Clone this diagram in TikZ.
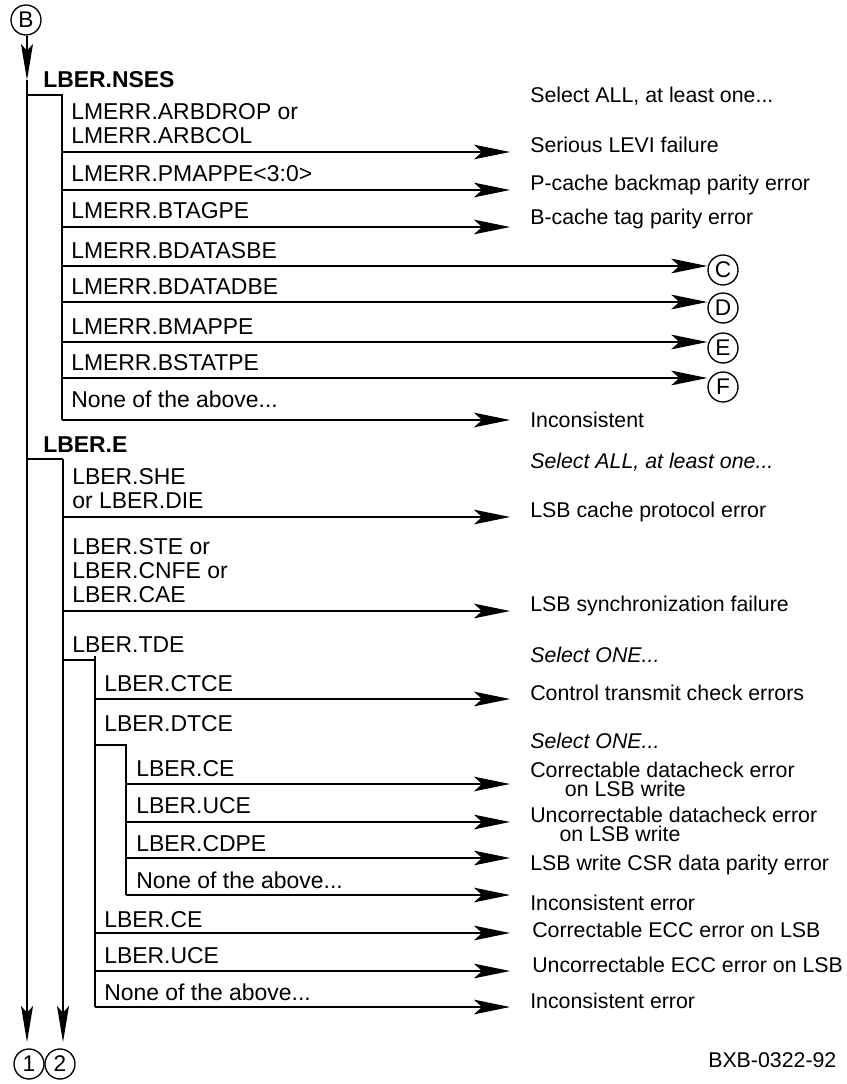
\documentclass[tikz,border=0pt]{standalone}
\usepackage{fontspec}
\setmainfont{Liberation Sans}
\usetikzlibrary{arrows.meta}
\begin{document}
\begin{tikzpicture}[x=0.75pt,y=-0.75pt,
  lt/.style={font=\fontsize{17.2}{18}\selectfont, anchor=base west, inner sep=0pt, align=left},
  hd/.style={font=\fontsize{17.2}{18}\selectfont\bfseries, anchor=base west, inner sep=0pt},
  rt/.style={font=\fontsize{16}{14.2}\selectfont, anchor=base west, inner sep=0pt, align=left},
  rit/.style={font=\fontsize{16}{14.2}\selectfont\itshape, anchor=base west, inner sep=0pt},
  circ/.style={circle, draw, line width=1pt, minimum size=22.5pt, inner sep=0pt, font=\fontsize{17}{17}\selectfont},
  ln/.style={line width=1pt},
  arr/.style={ln, -{Stealth[length=27pt,width=11pt,inset=6pt]}},
  varr/.style={ln, -{Stealth[length=27pt,width=9pt,inset=5pt]}}]
\useasboundingbox (0,0) rectangle (846,1084);

% main trunk
\node[circ] (B) at (26,20) {B};
\coordinate (v1t) at (27,80);
\coordinate (v1b) at (27,1042);
\draw[varr] (v1t |- B.south) -- (v1t);
\draw[varr] (v1t) -- (v1b);
\node[circ] (c1) at (29,1064) {1};
\node[circ] (c2) at (60,1064) {2};

% section LBER.NSES
\node[hd] (nses) at (43,88) {LBER.NSES};
\coordinate (n0) at (27,95);
\coordinate (n1) at (62,95);
\coordinate (n2) at (62,420);
\draw[ln] (n0) -- (n1) -- (n2);

\node[lt] (l1) at (71,144) {LMERR.ARBDROP or\\LMERR.ARBCOL};
\node[lt] (l2) at (71,182) {LMERR.PMAPPE<3:0>};
\node[lt] (l3) at (71,219) {LMERR.BTAGPE};
\node[lt] (l4) at (71,258) {LMERR.BDATASBE};
\node[lt] (l5) at (71,294) {LMERR.BDATADBE};
\node[lt] (l6) at (71,334) {LMERR.BMAPPE};
\node[lt] (l7) at (71,370) {LMERR.BSTATPE};
\node[lt] (l8) at (71,407) {None of the above...};

\node[rt] (r0) at (530,103) {Select ALL, at least one...};
\node[rt] (r1) at (530,153) {Serious LEVI failure};
\node[rt] (r2) at (530,191) {P-cache backmap parity error};
\node[rt] (r3) at (530,225) {B-cache tag parity error};
\node[rt] (r8) at (530,427) {Inconsistent};

\node[circ] (C) at (723,270) {C};
\node[circ] (D) at (723,308) {D};
\node[circ] (E) at (723,348) {E};
\node[circ] (F) at (723,387) {F};

\foreach \y/\n in {152/1,190/2,227/3,420/8}{
  \coordinate (sa\n) at (62,\y);
  \coordinate (sb\n) at (510,\y);
  \draw[arr] (sa\n) -- (sb\n);
}
\foreach \y/\c in {266/C,302/D,342/E,378/F}{
  \coordinate (sa\c) at (62,\y);
  \draw[arr] (sa\c) -- (sa\c -| \c.west);
}

% section LBER.E
\node[hd] (lbere) at (43,452) {LBER.E};
\coordinate (e0) at (27,459);
\coordinate (e1) at (63,459);
\coordinate (v2b) at (63,1042);
\draw[ln] (e0) -- (e1);
\draw[varr] (e1) -- (v2b);

\node[lt] (m1) at (72,508) {LBER.SHE\\or LBER.DIE};
\node[lt] (m2) at (72,602) {LBER.STE or\\LBER.CNFE or\\LBER.CAE};
\node[lt] (m3) at (72,652) {LBER.TDE};

\node[rit] (q0) at (530,468) {Select ALL, at least one...};
\node[rt] (q1) at (530,517) {LSB cache protocol error};
\node[rt] (q2) at (530,611) {LSB synchronization failure};
\node[rit] (q3) at (530,662) {Select ONE...};

\foreach \y/\n in {517/1,611/2}{
  \coordinate (ea\n) at (63,\y);
  \coordinate (eb\n) at (510,\y);
  \draw[arr] (ea\n) -- (eb\n);
}

% level 2 (LBER.TDE)
\coordinate (t0) at (63,660);
\coordinate (t1) at (95,660);
\coordinate (t1u) at (95,656);
\coordinate (t2) at (95,1007);
\draw[ln] (t0) -- (t1);
\draw[ln] (t1u) -- (t2);

\node[lt] (k1) at (104,691) {LBER.CTCE};
\node[lt] (k2) at (104,731) {LBER.DTCE};
\node[lt] (k3) at (104,927) {LBER.CE};
\node[lt] (k4) at (104,963) {LBER.UCE};
\node[lt] (k5) at (104,1000) {None of the above...};

\node[rt] (p1) at (530,700) {Control transmit check errors};
\node[rt] (p3) at (532,937) {Correctable ECC error on LSB};
\node[rt] (p4) at (532,972) {Uncorrectable ECC error on LSB};
\node[rt] (p5) at (530,1008) {Inconsistent error};

\foreach \y/\n in {699/1,933/3,971/4,1007/5}{
  \coordinate (ka\n) at (95,\y);
  \coordinate (kb\n) at (510,\y);
  \draw[arr] (ka\n) -- (kb\n);
}

% level 3 (LBER.DTCE)
\coordinate (d0) at (95,745);
\coordinate (d1) at (126,745);
\coordinate (d2) at (126,895);
\draw[ln] (d0) -- (d1) -- (d2);

\node[lt] (j1) at (136,776) {LBER.CE};
\node[lt] (j2) at (136,813) {LBER.UCE};
\node[lt] (j3) at (136,851) {LBER.CDPE};
\node[lt] (j4) at (136,888) {None of the above...};

\node[rit] (o0) at (530,748) {Select ONE...};
\node[rt] (o1) at (530,796) {Correctable datacheck error\\\hspace*{26pt}on LSB write};
\node[rt] (o2) at (530,841) {Uncorrectable datacheck error\\\hspace*{22pt}on LSB write};
\node[rt] (o3) at (530,870) {LSB write CSR data parity error};
\node[rt] (o4) at (530,910) {Inconsistent error};

\foreach \y/\n in {784/1,822/2,858/3,895/4}{
  \coordinate (ja\n) at (126,\y);
  \coordinate (jb\n) at (510,\y);
  \draw[arr] (ja\n) -- (jb\n);
}

\node[rt] (code) at (708,1067) {BXB-0322-92};
\end{tikzpicture}
\end{document}
